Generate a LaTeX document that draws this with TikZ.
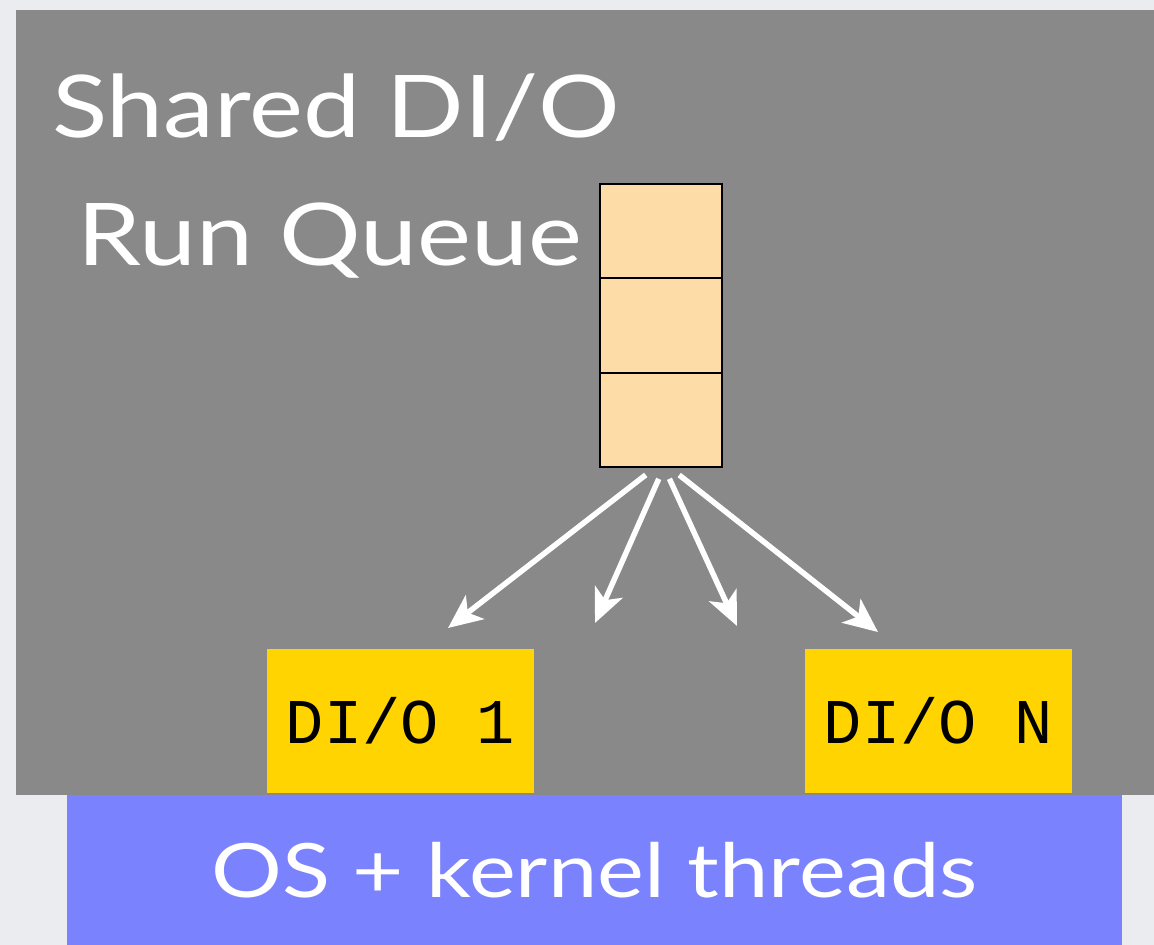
\documentclass[tikz,border=0pt]{standalone}
\usepackage{fontspec}
\setmainfont{Lato}
\setmonofont{Liberation Mono}
\newfontfamily\slidefont[FakeStretch=1.18]{Lato}
\usepackage{tikz}
\usetikzlibrary{arrows.meta, positioning, calc}
\definecolor{slidebg}{HTML}{EAECF0}
\definecolor{panelgray}{HTML}{898989}
\definecolor{queuefill}{HTML}{FDDCA8}
\definecolor{dioyellow}{HTML}{FFD400}
\definecolor{osblue}{HTML}{7B82FE}

\begin{document}
\begin{tikzpicture}[x=1pt, y=-1pt,
    cell/.style={draw=black, line width=2pt, fill=queuefill, minimum width=122pt, minimum height=94.3pt, inner sep=0pt, outer sep=0pt},
    diobox/.style={fill=dioyellow, minimum width=267pt, minimum height=144pt, inner sep=0pt, font=\ttfamily\fontsize{63.7}{70}\selectfont},
    fanout/.style={-{Stealth[length=34pt, width=30pt, inset=9pt]}, white, line width=5.5pt, shorten <=13pt}]
\useasboundingbox (0,0) rectangle (1154,945);
\fill[slidebg] (0,0) rectangle (1154,945);

% Shared run queue panel
\node[fill=panelgray, minimum width=1138pt, minimum height=785pt, inner sep=0pt, anchor=north west] (shared) at (16,10) {};
\node[anchor=base west, inner sep=0pt, text=white, font=\slidefont\fontsize{86.5}{100}\selectfont] (title) at (52,137) {Shared DI/O};
\node[anchor=base west, inner sep=0pt, text=white, font=\slidefont\fontsize{86.5}{100}\selectfont] (subtitle) at (77,265) {Run Queue};

% Queue slots
\node[cell] (q1) at (661,231.2) {};
\node[cell, below=0pt of q1] (q2) {};
\node[cell, below=0pt of q2] (q3) {};

% Workers and OS layer
\node[diobox] (dio1) at (400.5,721) {DI/O 1};
\node[diobox] (dion) at (938.5,721) {DI/O N};
\node[fill=osblue, minimum width=1055pt, minimum height=150pt, inner sep=0pt, text=white, font=\slidefont\fontsize{75}{85}\selectfont] (os) at (594.5,870) {OS + kernel threads};

% Arrows
\coordinate (to1) at (448,628);
\coordinate (to2) at (595,623);
\coordinate (to3) at (737,626);
\coordinate (to4) at (878,632);
\draw[fanout] ($(q3.south)+(-5,0)$) -- (to1);
\draw[fanout] ($(q3.south)+(3,0)$) -- (to2);
\draw[fanout] ($(q3.south)+(3,0)$) -- (to3);
\draw[fanout] ($(q3.south)+(8,0)$) -- (to4);
\end{tikzpicture}
\end{document}
